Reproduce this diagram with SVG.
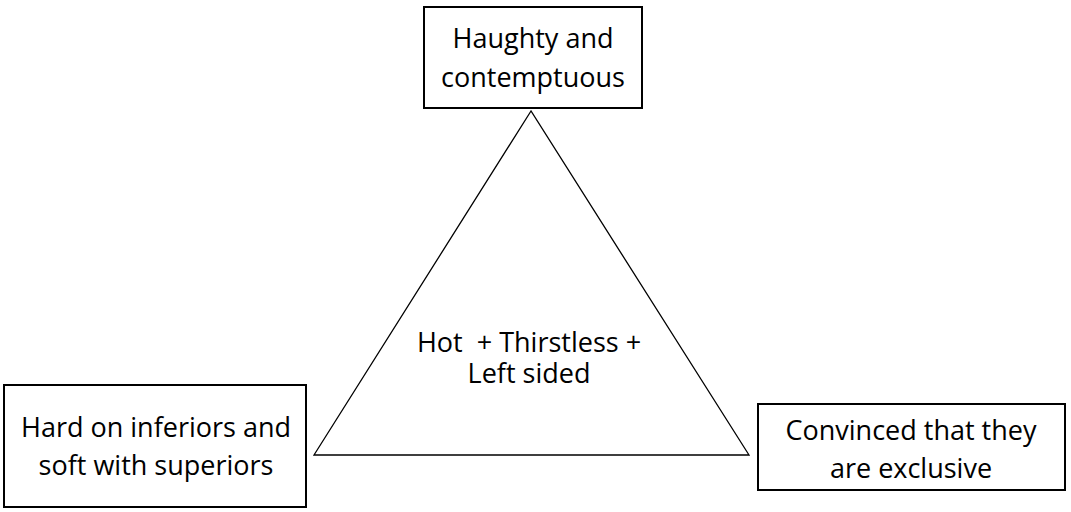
<svg xmlns="http://www.w3.org/2000/svg" width="1071" height="512" viewBox="0 0 1071 512">
<style>
.box{fill:#fff;stroke:#000;stroke-width:2}
.t{font-family:"Open Sans","Liberation Sans",sans-serif;font-size:27px;fill:#000;text-anchor:middle}
.tri{fill:none;stroke:#000;stroke-width:1.3}
</style>
<rect width="1071" height="512" fill="#fff"/>
<g id="connectors">
<polygon class="tri" points="531,111 314,455 749,455"/>
</g>
<g id="center">
<text class="t" x="529" y="352" xml:space="preserve">Hot  + Thirstless +</text>
<text class="t" x="529" y="383">Left sided</text>
</g>
<g id="top">
<rect class="box" x="424" y="7" width="218" height="101"/>
<text class="t" x="533" y="48">Haughty and</text>
<text class="t" x="533" y="87">contemptuous</text>
</g>
<g id="left">
<rect class="box" x="4" y="385" width="302" height="122"/>
<text class="t" x="156" y="437">Hard on inferiors and</text>
<text class="t" x="156" y="475">soft with superiors</text>
</g>
<g id="right">
<rect class="box" x="758" y="404" width="307" height="86"/>
<text class="t" x="911" y="440">Convinced that they</text>
<text class="t" x="911" y="478">are exclusive</text>
</g>
</svg>
